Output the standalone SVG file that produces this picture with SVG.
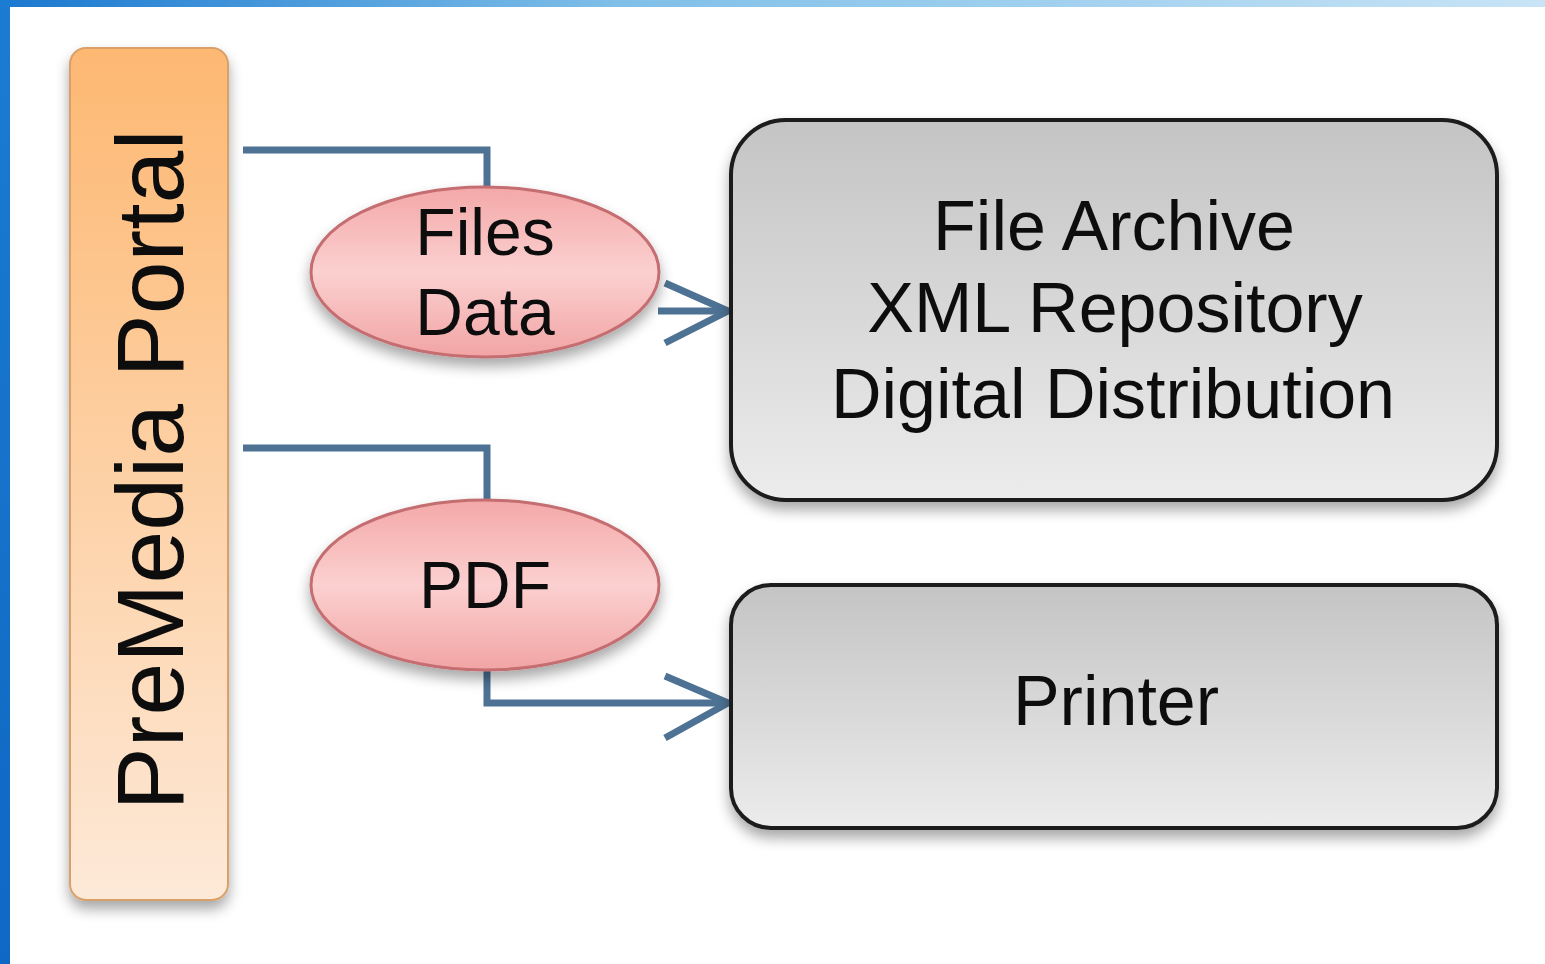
<svg xmlns="http://www.w3.org/2000/svg" width="1545" height="964" viewBox="0 0 1545 964">
<defs>
<linearGradient id="top" x1="0" y1="0" x2="1" y2="0"><stop offset="0" stop-color="#1a78d0"/><stop offset="0.4" stop-color="#7fbfe8"/><stop offset="1" stop-color="#c8e4f6"/></linearGradient>
<linearGradient id="left" x1="0" y1="0" x2="0" y2="1"><stop offset="0" stop-color="#1c7bd2"/><stop offset="1" stop-color="#0f68c4"/></linearGradient>
<linearGradient id="portal" x1="0" y1="0" x2="0" y2="1"><stop offset="0" stop-color="#fdb872"/><stop offset="1" stop-color="#fde9d8"/></linearGradient>
<linearGradient id="ell" x1="0" y1="0" x2="0" y2="1"><stop offset="0" stop-color="#f4a8a8"/><stop offset="0.5" stop-color="#fbd0d0"/><stop offset="1" stop-color="#f2a4a4"/></linearGradient>
<linearGradient id="box" x1="0" y1="0" x2="0" y2="1"><stop offset="0" stop-color="#c4c4c4"/><stop offset="1" stop-color="#ececec"/></linearGradient>
<filter id="sh" x="-10%" y="-10%" width="120%" height="130%"><feGaussianBlur in="SourceAlpha" stdDeviation="7"/><feOffset dx="0" dy="8"/><feComponentTransfer><feFuncA type="linear" slope="0.35"/></feComponentTransfer><feMerge><feMergeNode/><feMergeNode in="SourceGraphic"/></feMerge></filter>
</defs>
<style>
.lbl{font-family:"Liberation Sans",Arial,sans-serif;fill:#111111;text-anchor:middle}
.con{fill:none;stroke:#4d7294;stroke-width:7;stroke-linejoin:miter}
.ellipse{fill:url(#ell);stroke:#c46e72;stroke-width:3}
.box{fill:url(#box);stroke:#1a1a1a;stroke-width:4}
</style>
<rect x="0" y="0" width="1545" height="964" fill="#ffffff"/>
<rect x="0" y="0" width="1545" height="7" fill="url(#top)"/>
<rect x="0" y="0" width="10" height="964" fill="url(#left)"/>
<g id="portal-node" filter="url(#sh)">
<rect x="70" y="48" width="158" height="852" rx="16" fill="url(#portal)" stroke="#d9a06a" stroke-width="2"/>
<text class="lbl" transform="translate(183,470) rotate(-90)" font-size="95">PreMedia Portal</text>
</g>
<g id="connectors">
<polyline class="con" points="243,150 487,150 487,188"/>
<polyline class="con" points="243,448 487,448 487,500"/>
<line class="con" x1="658" y1="311" x2="728" y2="311"/>
<polyline class="con" points="665,283 728,311 665,343"/>
<polyline class="con" points="487,670 487,703 728,703"/>
<polyline class="con" points="665,676 728,703 665,738"/>
</g>
<g id="files-data" filter="url(#sh)">
<ellipse class="ellipse" cx="485" cy="272" rx="174" ry="85"/>
<text class="lbl" x="485" y="255" font-size="66">Files</text>
<text class="lbl" x="485" y="335" font-size="66">Data</text>
</g>
<g id="pdf" filter="url(#sh)">
<ellipse class="ellipse" cx="485" cy="585" rx="174" ry="85"/>
<text class="lbl" x="485" y="608" font-size="66">PDF</text>
</g>
<g id="archive" filter="url(#sh)">
<rect class="box" x="731" y="120" width="766" height="380" rx="55"/>
<text class="lbl" x="1114" y="250" font-size="70">File Archive</text>
<text class="lbl" x="1115" y="332" font-size="70">XML Repository</text>
<text class="lbl" x="1113" y="418" font-size="70">Digital Distribution</text>
</g>
<g id="printer" filter="url(#sh)">
<rect class="box" x="731" y="585" width="766" height="243" rx="40"/>
<text class="lbl" x="1116" y="725" font-size="70">Printer</text>
</g>
</svg>
